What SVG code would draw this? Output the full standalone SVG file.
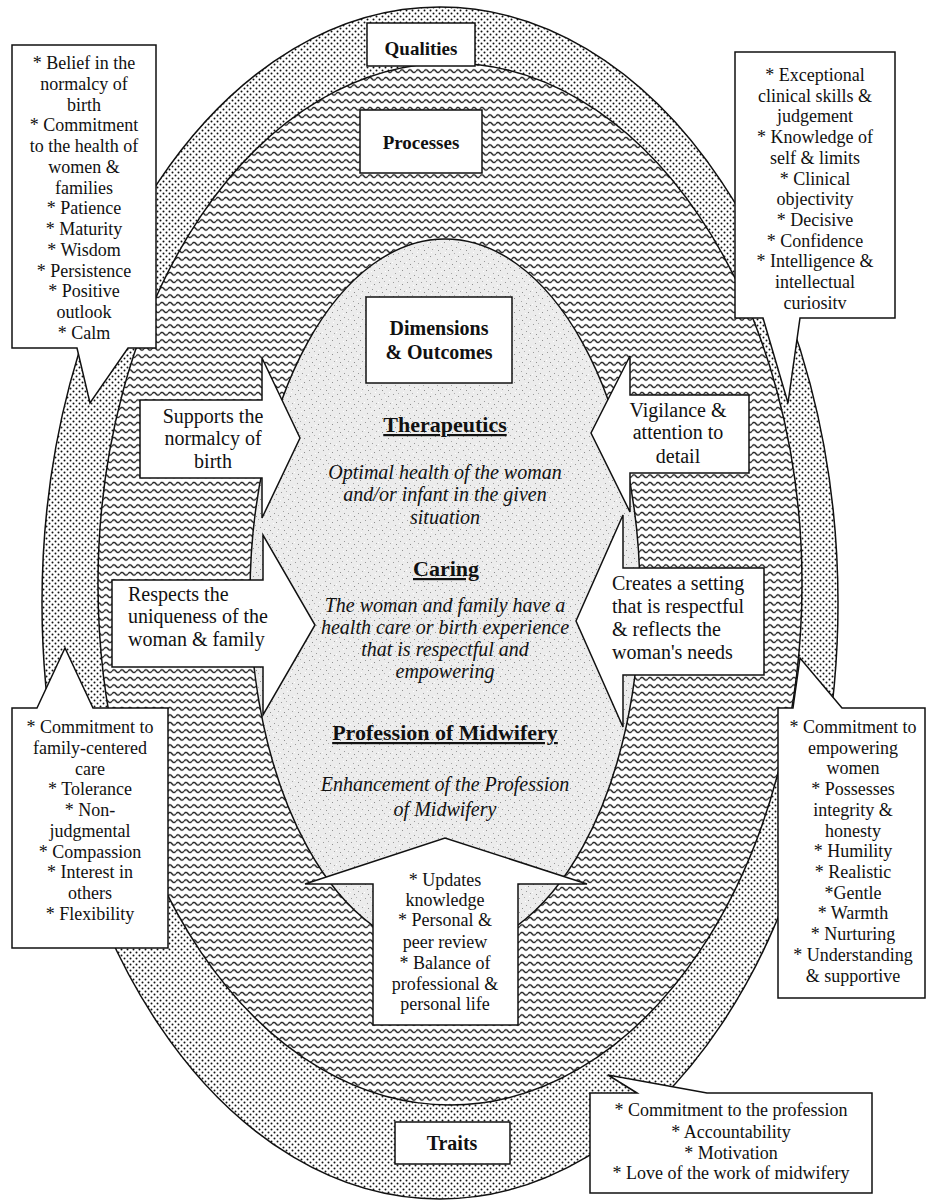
<svg xmlns="http://www.w3.org/2000/svg" width="928" height="1203" viewBox="0 0 928 1203">
<defs>
<pattern id="dots" width="6" height="6" patternUnits="userSpaceOnUse">
<rect width="6" height="6" fill="#ffffff"/>
<circle cx="1.5" cy="1.5" r="1" fill="#111"/>
<circle cx="4.5" cy="4.5" r="1" fill="#111"/>
</pattern>
<pattern id="wave" width="8" height="7.5" patternUnits="userSpaceOnUse">
<rect width="8" height="7.5" fill="#ffffff"/>
<path d="M0,3.75 Q2,0.9 4,3.75 T8,3.75" fill="none" stroke="#111" stroke-width="1.3"/>
</pattern>
<pattern id="speck" width="14" height="14" patternUnits="userSpaceOnUse">
<rect width="14" height="14" fill="#ececec"/>
<rect x="1" y="2" width="1" height="1" fill="#9a9a9a"/>
<rect x="6" y="1" width="1" height="1" fill="#b0b0b0"/>
<rect x="10" y="4" width="1" height="1" fill="#8f8f8f"/>
<rect x="3" y="7" width="1" height="1" fill="#a5a5a5"/>
<rect x="8" y="9" width="1" height="1" fill="#999"/>
<rect x="12" y="11" width="1" height="1" fill="#aaa"/>
<rect x="4" y="12" width="1" height="1" fill="#8d8d8d"/>
<rect x="11" y="0" width="1" height="1" fill="#fff"/>
<rect x="0" y="10" width="1" height="1" fill="#fff"/>
<rect x="7" y="5" width="1" height="1" fill="#fff"/>
</pattern>
</defs>
<style>
.sh{stroke:#111;stroke-width:1.5}
.bx{fill:#fff;stroke:#111;stroke-width:1.5}
.t{font-family:"Liberation Serif","Times New Roman",serif;fill:#111}
.c{font-size:18px;text-anchor:middle}
.a{font-size:20px}
.m{text-anchor:middle}
.lb{font-size:20px;font-weight:bold;text-anchor:middle}
.hd{font-size:22px;font-weight:bold;text-anchor:middle;text-decoration:underline}
.it{font-size:20px;font-style:italic;text-anchor:middle}
</style>
<rect width="928" height="1203" fill="#fff"/>
<g id="rings">
<ellipse id="outer" cx="440" cy="603" rx="398" ry="596" fill="url(#dots)" class="sh"/>
<ellipse id="middle" cx="450" cy="584" rx="352" ry="521" fill="url(#wave)" class="sh"/>
<ellipse id="inner" cx="445" cy="595" rx="195" ry="356" fill="url(#speck)" class="sh"/>
</g>
<g id="qualities"><rect x="367" y="23" width="108" height="43" class="bx"/><text class="t lb" x="421" y="55" style="font-size:19px">Qualities</text></g>
<g id="processes"><rect x="360" y="110" width="122" height="63" class="bx"/><text class="t lb" x="421" y="149" style="font-size:19px">Processes</text></g>
<g id="dimensions"><rect x="366" y="297" width="146" height="86" class="bx"/><text class="t lb" x="439" y="335">Dimensions</text><text class="t lb" x="439" y="359">&amp; Outcomes</text></g>
<g id="traits"><rect x="395" y="1122" width="115" height="42" class="bx"/><text class="t lb" x="452" y="1150">Traits</text></g>
<g id="center-text">
<text class="t hd" x="445" y="432">Therapeutics</text>
<text class="t it" x="445" y="479">Optimal health of the woman</text>
<text class="t it" x="445" y="501">and/or infant in the given</text>
<text class="t it" x="445" y="524">situation</text>
<text class="t hd" x="446" y="576">Caring</text>
<text class="t it" x="445" y="612">The woman and family have a</text>
<text class="t it" x="445" y="634">health care or birth experience</text>
<text class="t it" x="445" y="656">that is respectful and</text>
<text class="t it" x="445" y="678">empowering</text>
<text class="t hd" x="445" y="740">Profession of Midwifery</text>
<text class="t it" x="445" y="791">Enhancement of the Profession</text>
<text class="t it" x="445" y="816">of Midwifery</text>
</g>
<g id="connectors">
<g id="arrow-supports"><polygon points="140,400 262,400 262,358 300,438 262,518 262,478 140,478" class="bx"/>
<text class="t a m" x="213" y="423">Supports the</text><text class="t a m" x="213" y="445">normalcy of</text><text class="t a m" x="213" y="468">birth</text></g>
<g id="arrow-respects"><polygon points="112,580 263,580 263,535 315,625 263,715 263,667 112,667" class="bx"/>
<text class="t a" x="128" y="601">Respects the</text><text class="t a" x="128" y="623">uniqueness of the</text><text class="t a" x="128" y="646">woman &amp;  family</text></g>
<g id="arrow-vigilance"><polygon points="749,395 630,395 630,356 591,433 630,512 630,473 749,473" class="bx"/>
<text class="t a m" x="678" y="417">Vigilance &amp;</text><text class="t a m" x="678" y="439">attention to</text><text class="t a m" x="678" y="463">detail</text></g>
<g id="arrow-creates"><polygon points="764,568 623,568 623,515 576,621 623,727 623,675 764,675" class="bx"/>
<text class="t a" x="612" y="590">Creates a setting</text><text class="t a" x="612" y="613">that is respectful</text><text class="t a" x="612" y="636">&amp; reflects the</text><text class="t a" x="612" y="659">woman's needs</text></g>
<g id="arrow-updates"><polygon points="373,1025 373,884 305,884 445,838 587,884 518,884 518,1025" class="bx"/>
<text class="t c" x="445" y="886">* Updates</text><text class="t c" x="445" y="906">knowledge</text><text class="t c" x="445" y="926">* Personal &amp;</text><text class="t c" x="445" y="948">peer review</text><text class="t c" x="445" y="969">* Balance of</text><text class="t c" x="445" y="990">professional &amp;</text><text class="t c" x="445" y="1010">personal life</text></g>
</g>
<g id="callout-top-left">
<path d="M77,348 L12,348 L12,45 L156,45 L156,348 L128,348 L90,403 Z" class="bx"/>
<text class="t c" x="84" y="69">* Belief in the</text>
<text class="t c" x="84" y="89.8">normalcy of</text>
<text class="t c" x="84" y="110.5">birth</text>
<text class="t c" x="84" y="131.3">* Commitment</text>
<text class="t c" x="84" y="152">to the health of</text>
<text class="t c" x="84" y="172.8">women &amp;</text>
<text class="t c" x="84" y="193.5">families</text>
<text class="t c" x="84" y="214.3">* Patience</text>
<text class="t c" x="84" y="235">* Maturity</text>
<text class="t c" x="84" y="255.8">* Wisdom</text>
<text class="t c" x="84" y="276.5">* Persistence</text>
<text class="t c" x="84" y="297.3">* Positive</text>
<text class="t c" x="84" y="318">outlook</text>
<text class="t c" x="84" y="338.8">* Calm</text>
</g>
<g id="callout-top-right">
<path d="M763,318 L735,318 L735,52 L895,52 L895,318 L800,318 L788,403 Z" class="bx"/>
<text class="t c" x="815" y="81">* Exceptional</text>
<text class="t c" x="815" y="101.7">clinical skills &amp;</text>
<text class="t c" x="815" y="122.4">judgement</text>
<text class="t c" x="815" y="143.1">* Knowledge of</text>
<text class="t c" x="815" y="163.8">self &amp; limits</text>
<text class="t c" x="815" y="184.5">* Clinical</text>
<text class="t c" x="815" y="205.2">objectivity</text>
<text class="t c" x="815" y="225.9">* Decisive</text>
<text class="t c" x="815" y="246.6">* Confidence</text>
<text class="t c" x="815" y="267.3">* Intelligence &amp;</text>
<text class="t c" x="815" y="288">intellectual</text>
<text class="t c" x="815" y="308.7">curiositv</text>
</g>
<g id="callout-bottom-left">
<path d="M37,708 L65,648 L93,708 L168,708 L168,948 L12,948 L12,708 Z" class="bx"/>
<text class="t c" x="90" y="733">* Commitment to</text>
<text class="t c" x="90" y="754">family-centered</text>
<text class="t c" x="90" y="775">care</text>
<text class="t c" x="90" y="795">* Tolerance</text>
<text class="t c" x="90" y="816">* Non-</text>
<text class="t c" x="90" y="837">judgmental</text>
<text class="t c" x="90" y="858">* Compassion</text>
<text class="t c" x="90" y="878">* Interest in</text>
<text class="t c" x="90" y="899">others</text>
<text class="t c" x="90" y="920">* Flexibility</text>
</g>
<g id="callout-bottom-right">
<path d="M793,708 L800,658 L842,708 L925,708 L925,998 L778,998 L778,708 Z" class="bx"/>
<text class="t c" x="853" y="733">* Commitment to</text>
<text class="t c" x="853" y="754">empowering</text>
<text class="t c" x="853" y="774">women</text>
<text class="t c" x="853" y="795">* Possesses</text>
<text class="t c" x="853" y="816">integrity &amp;</text>
<text class="t c" x="853" y="837">honesty</text>
<text class="t c" x="853" y="857">* Humility</text>
<text class="t c" x="853" y="878">* Realistic</text>
<text class="t c" x="853" y="899">*Gentle</text>
<text class="t c" x="853" y="919">* Warmth</text>
<text class="t c" x="853" y="940">* Nurturing</text>
<text class="t c" x="853" y="961">* Understanding</text>
<text class="t c" x="853" y="982">&amp; supportive</text>
</g>
<g id="callout-traits">
<path d="M637,1093 L608,1075 L707,1093 L872,1093 L872,1193 L590,1193 L590,1093 Z" class="bx"/>
<text class="t c" x="731" y="1116">* Commitment to the profession</text>
<text class="t c" x="731" y="1138">* Accountability</text>
<text class="t c" x="731" y="1159">* Motivation</text>
<text class="t c" x="731" y="1179">* Love of the work of midwifery</text>
</g>
</svg>
